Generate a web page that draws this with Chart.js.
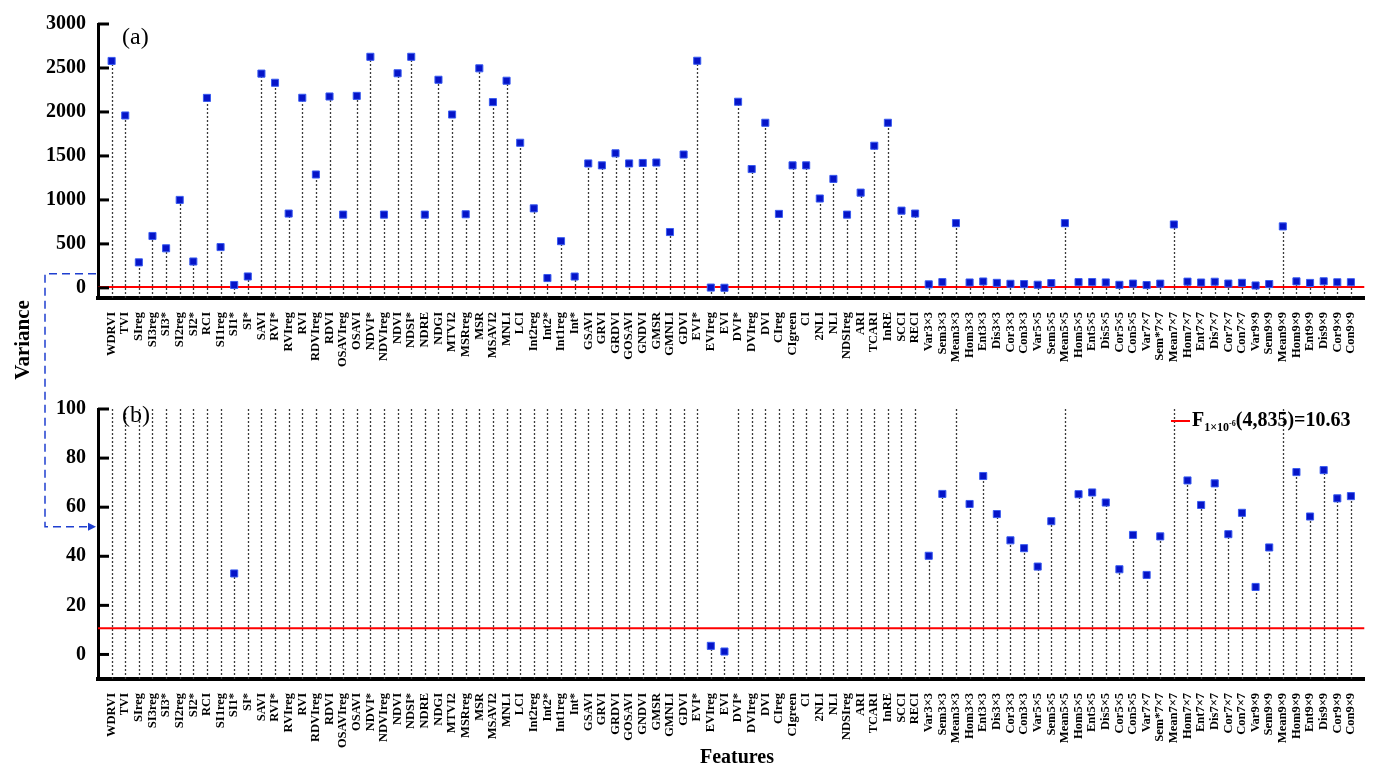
<!DOCTYPE html>
<html><head><meta charset="utf-8">
<script src="https://cdn.jsdelivr.net/npm/chart.js@4.4.1/dist/chart.umd.min.js"></script>
<style>
body{margin:0;background:#fff;width:1380px;height:767px;overflow:hidden;position:relative;font-family:"Liberation Serif","Times New Roman",serif;}
.box{position:absolute;left:0;width:1380px;}
#topBox{top:0;height:390px;}
#botBox{top:385px;height:382px;}
.lbl{position:absolute;color:#000;white-space:nowrap;}
#arrow{position:absolute;left:0;top:0;width:1380px;height:767px;pointer-events:none;}
</style></head><body>
<div class="box" id="topBox"><canvas id="cTop"></canvas></div>
<div class="box" id="botBox"><canvas id="cBot"></canvas></div>
<svg id="arrow"></svg>
<div class="lbl" style="left:122px;top:24px;font-size:24px;line-height:24px;">(a)</div>
<div class="lbl" style="left:122px;top:402px;font-size:24px;line-height:24px;">(b)</div>
<div class="lbl" style="left:22px;top:340px;transform:translate(-50%,-50%) rotate(-90deg);font-size:21px;font-weight:bold;">Variance</div>
<div class="lbl" style="left:737px;top:756px;transform:translate(-50%,-50%);font-size:20px;font-weight:bold;">Features</div>
<div class="lbl" id="legend" style="left:1171px;top:409px;font-size:20px;line-height:20px;font-weight:bold;">
<span style="display:inline-block;width:19px;height:2px;background:#ff0000;vertical-align:middle;margin-right:2px;"></span>F<sub style="font-size:12px;line-height:0;">1×10<sup style="font-size:8px;line-height:0;">-6</sup></sub>(4,835)=10.63</div>
<script>
const categories = ["WDRVI","TVI","SIreg","SI3reg","SI3*","SI2reg","SI2*","RCI","SI1reg","SI1*","SI*","SAVI","RVI*","RVIreg","RVI","RDVIreg","RDVI","OSAVIreg","OSAVI","NDVI*","NDVIreg","NDVI","NDSI*","NDRE","NDGI","MTVI2","MSRreg","MSR","MSAVI2","MNLI","LCI","Int2reg","Int2*","Int1reg","Int*","GSAVI","GRVI","GRDVI","GOSAVI","GNDVI","GMSR","GMNLI","GDVI","EVI*","EVIreg","EVI","DVI*","DVIreg","DVI","CIreg","CIgreen","CI","2NLI","NLI","NDSIreg","ARI","TCARI","InRE","SCCI","RECI","Var3×3","Sem3×3","Mean3×3","Hom3×3","Ent3×3","Dis3×3","Cor3×3","Con3×3","Var5×5","Sem5×5","Mean5×5","Hom5×5","Ent5×5","Dis5×5","Cor5×5","Con5×5","Var7×7","Sem*7×7","Mean7×7","Hom7×7","Ent7×7","Dis7×7","Cor7×7","Con7×7","Var9×9","Sem9×9","Mean9×9","Hom9×9","Ent9×9","Dis9×9","Cor9×9","Con9×9"];
const variance = [2580,1960,290,590,450,1000,300,2160,464,33,130,2436,2332,845,2161,1289,2176,833,2183,2627,833,2440,2627,833,2366,1971,837,2496,2112,2355,1650,904,112,531,129,1415,1393,1530,1415,1420,1425,635,1516,2582,3.5,1.2,2116,1351,1877,841,1393,1393,1016,1239,833,1083,1616,1877,878,845,
 40.2,65.4,736,61.3,72.7,57.2,46.5,43.3,
 35.8,54.3,736,65.3,66.0,61.9,34.7,48.7,
 32.4,48.1,721,70.9,60.9,69.7,49.0,57.7,
 27.5,43.6,699,74.3,56.2,75.1,63.6,64.5];
const topTicks = [0,500,1000,1500,2000,2500,3000];
const botTicks = [0,20,40,60,80,100];
const threshold = 10.63;
const topRange = [-115, 3000];
const botRange = [-10, 100];
const arrowFrom = 160, arrowTo = 52;

Chart.defaults.font.family = '"Liberation Serif","Times New Roman",serif';

function makeStemPlugin(tickVals){
  return {
    id:'stems',
    beforeDatasetsDraw(chart){
      const {ctx, chartArea:a} = chart;
      const x = chart.scales.x, y = chart.scales.y;
      ctx.save();
      ctx.beginPath(); ctx.rect(a.left,a.top,a.right-a.left,a.bottom-a.top); ctx.clip();
      ctx.strokeStyle='#3a3a3a'; ctx.lineWidth=1.3; ctx.setLineDash([2,2]);
      variance.forEach((v,i)=>{
        const px = Math.round(x.getPixelForValue(i))+0.5;
        const py = Math.max(a.top, y.getPixelForValue(v));
        ctx.beginPath(); ctx.moveTo(px, a.bottom); ctx.lineTo(px, py); ctx.stroke();
      });
      ctx.setLineDash([]);
      ctx.strokeStyle='#ff0000'; ctx.lineWidth=2;
      const ty = y.getPixelForValue(threshold);
      ctx.beginPath(); ctx.moveTo(a.left, ty); ctx.lineTo(a.right, ty); ctx.stroke();
      ctx.restore();
      // inward major ticks on the y axis
      ctx.save();
      ctx.setLineDash([]); ctx.strokeStyle='#000000'; ctx.lineWidth=3;
      for (const t of tickVals){
        const py = y.getPixelForValue(t);
        ctx.beginPath(); ctx.moveTo(a.left, py); ctx.lineTo(a.left+11, py); ctx.stroke();
      }
      ctx.restore();
    }
  };
}

function makeChart(id, range, tickVals, xHeight, padTop){
  return new Chart(document.getElementById(id), {
    type:'scatter',
    data:{datasets:[{
      data: variance.map((v,i)=>({x:i,y:v})),
      pointStyle:'rect', pointRadius:5, pointHoverRadius:5,
      backgroundColor:'#0514C8', borderColor:'#3a5cf0', borderWidth:1,
      clip:0
    }]},
    options:{
      responsive:true, maintainAspectRatio:false, animation:false,
      events:[],
      layout:{padding:{left:0,right:8,top:padTop,bottom:0}},
      plugins:{legend:{display:false},tooltip:{enabled:false}},
      scales:{
        x:{type:'linear',min:-1,max:categories.length,
          afterBuildTicks(s){ s.ticks = categories.map((c,i)=>({value:i})); },
          ticks:{autoSkip:false,minRotation:90,maxRotation:90,padding:14,color:'#000',
            font:{size:12.5,weight:'bold'}, callback:(v)=>categories[v]},
          grid:{display:false,drawTicks:false,tickLength:0},
          border:{display:true,color:'#000',width:4},
          afterFit(s){ s.height = xHeight; }
        },
        y:{min:range[0],max:range[1],
          afterBuildTicks(s){ s.ticks = tickVals.map(v=>({value:v})); },
          ticks:{padding:12,color:'#000',font:{size:20,weight:'bold'}, callback:(v)=>String(v)},
          grid:{display:false,drawTicks:false,tickLength:0},
          border:{display:true,color:'#000',width:3},
          afterFit(s){ s.width = 98; }
        }
      }
    },
    plugins:[makeStemPlugin(tickVals)]
  });
}

const topChart = makeChart('cTop', topRange, topTicks, 92, 19);
const botChart = makeChart('cBot', botRange, botTicks, 88, 17);

(function(){
  const ta = topChart.chartArea, ba = botChart.chartArea;
  const y1 = topChart.scales.y.getPixelForValue(arrowFrom);
  const y2 = 385 + botChart.scales.y.getPixelForValue(arrowTo);
  const xl = 45;
  const x2 = ba.left - 2;
  const svg = document.getElementById('arrow');
  svg.innerHTML =
    `<path d="M${ta.left-2},${y1} H${xl} V${y2} H${x2-7}" fill="none" stroke="#1f3fd0" stroke-width="1.5" stroke-dasharray="8,5"/>`+
    `<polygon points="${x2},${y2} ${x2-8},${y2-4} ${x2-8},${y2+4}" fill="#1f3fd0"/>`;
})();
</script>
</body></html>
